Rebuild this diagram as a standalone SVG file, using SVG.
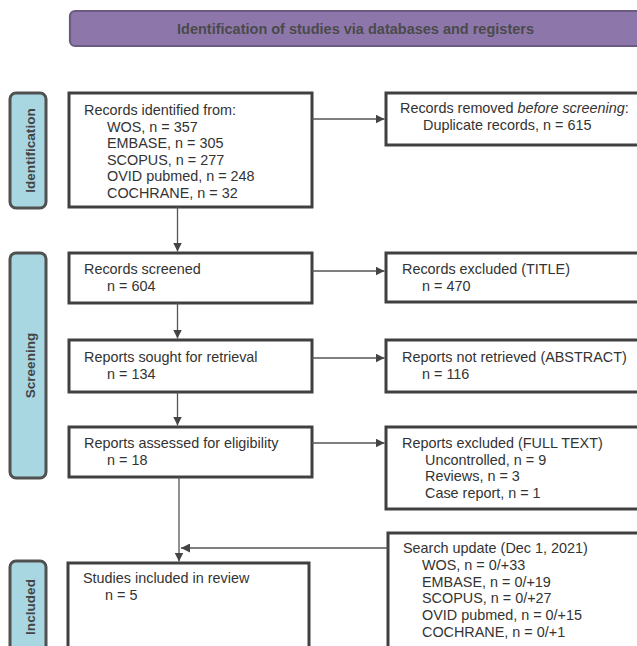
<svg xmlns="http://www.w3.org/2000/svg" width="637" height="646" viewBox="0 0 637 646">
<style>
.box{fill:#fff;stroke:#404040;stroke-width:3}
.lab{fill:#a8d7e2;stroke:#505050;stroke-width:3}
.t{font-family:"Liberation Sans",Arial,sans-serif;font-size:14.4px;fill:#333}
.lt{font-family:"Liberation Sans",Arial,sans-serif;font-size:13.6px;font-weight:bold;fill:#444}
.c{fill:none;stroke:#555;stroke-width:1.3}
</style>
<defs>
<marker id="ah" viewBox="0 0 10 10" refX="10" refY="5" markerWidth="9" markerHeight="9" markerUnits="userSpaceOnUse" orient="auto">
<path d="M0,0 L10,5 L0,10 z" fill="#444"/>
</marker>
</defs>
<rect width="637" height="646" fill="#fff"/>
<g id="header">
<rect x="70" y="11" width="600" height="35" rx="5" fill="#8d77aa" stroke="#6b5b82" stroke-width="2.2"/>
<text x="355.5" y="34.3" text-anchor="middle" class="lt" style="fill:#4a4a4a;font-size:14.5px">Identification of studies via databases and registers</text>
</g>
<g id="lab-identification">
<rect x="10" y="93" width="36" height="115" rx="6" class="lab"/>
<text class="lt" transform="translate(34.5,150.5) rotate(-90)" text-anchor="middle">Identification</text>
</g>
<g id="lab-screening">
<rect x="10" y="253" width="36" height="225" rx="6" class="lab"/>
<text class="lt" transform="translate(34.5,365.5) rotate(-90)" text-anchor="middle">Screening</text>
</g>
<g id="lab-included">
<rect x="10" y="561" width="36" height="95" rx="6" class="lab"/>
<text class="lt" transform="translate(34.5,607) rotate(-90)" text-anchor="middle">Included</text>
</g>
<g id="identified">
<rect x="69" y="93" width="243" height="114" class="box"/>
<text class="t" x="84" y="115">Records identified from:</text>
<text class="t" x="107" y="131.6">WOS, n = 357</text>
<text class="t" x="107" y="148.2">EMBASE, n = 305</text>
<text class="t" x="107" y="164.8">SCOPUS, n = 277</text>
<text class="t" x="107" y="181.4">OVID pubmed, n = 248</text>
<text class="t" x="107" y="198">COCHRANE, n = 32</text>
</g>
<g id="removed">
<rect x="386" y="93" width="270" height="52" class="box"/>
<text class="t" x="400" y="113">Records removed <tspan font-style="italic">before screening</tspan>:</text>
<text class="t" x="423" y="129.5">Duplicate records, n = 615</text>
</g>
<g id="screened">
<rect x="69" y="253" width="243" height="50" class="box"/>
<text class="t" x="84" y="274">Records screened</text>
<text class="t" x="107" y="291">n = 604</text>
</g>
<g id="excluded-title">
<rect x="386" y="253" width="270" height="49" class="box"/>
<text class="t" x="402" y="274">Records excluded (TITLE)</text>
<text class="t" x="422" y="291">n = 470</text>
</g>
<g id="sought">
<rect x="69" y="340" width="243" height="52" class="box"/>
<text class="t" x="84" y="362">Reports sought for retrieval</text>
<text class="t" x="107" y="379">n = 134</text>
</g>
<g id="not-retrieved">
<rect x="386" y="340" width="270" height="52" class="box"/>
<text class="t" x="402" y="362">Reports not retrieved (ABSTRACT)</text>
<text class="t" x="422" y="379">n = 116</text>
</g>
<g id="assessed">
<rect x="69" y="427" width="243" height="50" class="box"/>
<text class="t" x="84" y="448">Reports assessed for eligibility</text>
<text class="t" x="107" y="465">n = 18</text>
</g>
<g id="excluded-fulltext">
<rect x="386" y="427" width="270" height="82" class="box"/>
<text class="t" x="402" y="448">Reports excluded (FULL TEXT)</text>
<text class="t" x="425" y="464.5">Uncontrolled, n = 9</text>
<text class="t" x="425" y="481">Reviews, n = 3</text>
<text class="t" x="425" y="497.5">Case report, n = 1</text>
</g>
<g id="search-update">
<rect x="388" y="533" width="270" height="125" class="box"/>
<text class="t" x="403" y="553">Search update (Dec 1, 2021)</text>
<text class="t" x="422" y="569.8">WOS, n = 0/+33</text>
<text class="t" x="422" y="586.6">EMBASE, n = 0/+19</text>
<text class="t" x="422" y="603.4">SCOPUS, n = 0/+27</text>
<text class="t" x="422" y="620.2">OVID pubmed, n = 0/+15</text>
<text class="t" x="422" y="637">COCHRANE, n = 0/+1</text>
</g>
<g id="included">
<rect x="68" y="563" width="241" height="95" class="box"/>
<text class="t" x="83" y="583">Studies included in review</text>
<text class="t" x="105" y="600">n = 5</text>
</g>
<g id="connectors">
<line class="c" x1="312" y1="119" x2="384.5" y2="119" marker-end="url(#ah)"/>
<line class="c" x1="177.5" y1="207" x2="177.5" y2="251.5" marker-end="url(#ah)"/>
<line class="c" x1="312" y1="271" x2="384.5" y2="271" marker-end="url(#ah)"/>
<line class="c" x1="177.5" y1="303" x2="177.5" y2="338.5" marker-end="url(#ah)"/>
<line class="c" x1="312" y1="358" x2="384.5" y2="358" marker-end="url(#ah)"/>
<line class="c" x1="177.5" y1="392" x2="177.5" y2="425.5" marker-end="url(#ah)"/>
<line class="c" x1="312" y1="443" x2="384.5" y2="443" marker-end="url(#ah)"/>
<line class="c" x1="179" y1="477" x2="179" y2="561.5" marker-end="url(#ah)"/>
<line class="c" x1="388" y1="548" x2="181" y2="548" marker-end="url(#ah)"/>
</g>
</svg>
